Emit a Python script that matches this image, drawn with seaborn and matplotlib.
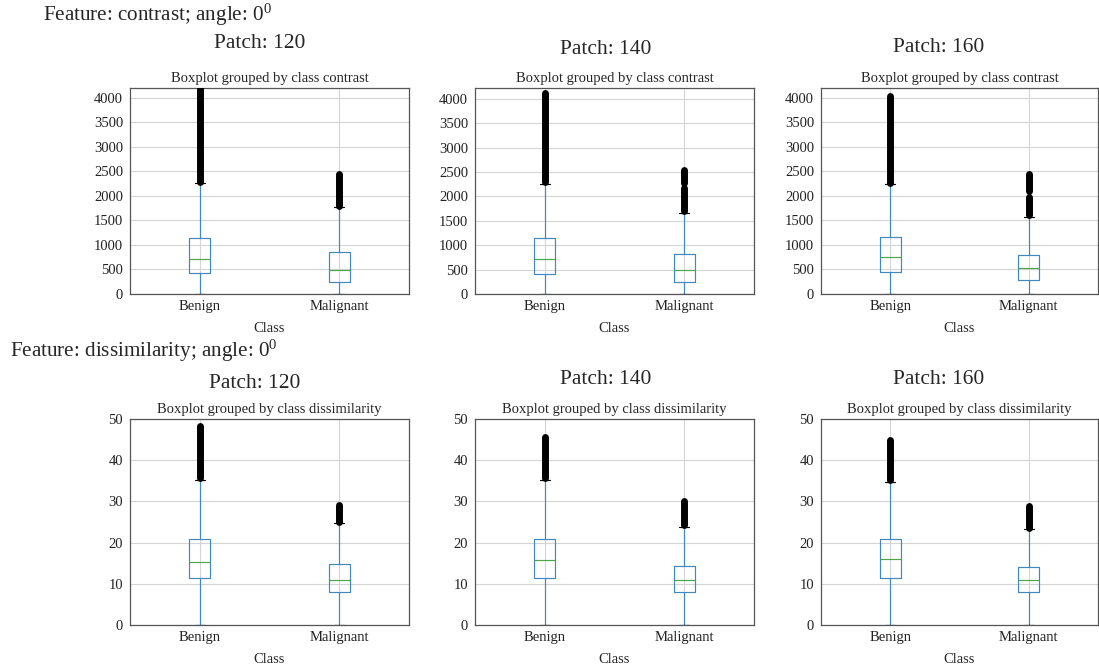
import pandas as pd
import matplotlib
matplotlib.use("Agg")
import matplotlib.pyplot as plt
import seaborn as sns

# data
classes = ["Benign", "Malignant"]
patches = [120, 140, 160]

# contrast, one [benign, malignant] pair per patch
contrast_whislo = [[0, 0], [0, 0], [0, 0]]
contrast_q1 = [[421, 251], [417, 253], [441, 292]]
contrast_med = [[706, 489], [718, 499], [746, 522]]
contrast_q3 = [[1148, 856], [1156, 814], [1166, 800]]
contrast_whishi = [[2255, 1766], [2256, 1662], [2237, 1573]]
# flier runs (low, high) - the outliers are so dense they form bars
contrast_fliers = [
    [[(2290, 4400)], [(1800, 2440)]],
    [[(2290, 4110)], [(1700, 2170), (2270, 2550)]],
    [[(2270, 4030)], [(1610, 1980), (2110, 2440)]],
]
contrast_ymax = [4200, 4220, 4200]

# dissimilarity
dissim_whislo = [[0, 0], [0, 0], [0, 0]]
dissim_q1 = [[11.3, 7.9], [11.3, 7.9], [11.5, 8.0]]
dissim_med = [[15.3, 10.9], [15.7, 10.9], [15.9, 10.9]]
dissim_q3 = [[20.9, 14.7], [20.9, 14.3], [20.8, 14.1]]
dissim_whishi = [[35.3, 24.7], [35.2, 23.9], [34.7, 23.2]]
dissim_fliers = [
    [[(35.8, 48.2)], [(25.1, 29.2)]],
    [[(35.7, 45.6)], [(24.3, 30.0)]],
    [[(35.2, 44.8)], [(23.6, 29.0)]],
]
dissim_ymax = [50, 50, 50]

sns.set_style("whitegrid", {"grid.color": "#d4d4d4", "axes.edgecolor": "#555555"})
plt.rcParams["font.family"] = ["Liberation Serif", "DejaVu Serif"]
plt.rcParams["mathtext.fontset"] = "custom"
plt.rcParams["mathtext.rm"] = "Liberation Serif"

W, H = 1099, 667
fig = plt.figure(figsize=(W / 100, H / 100), dpi=100)

lefts = [130, 475, 821]
widths = [279, 279, 277]
rows = [
    dict(name="contrast", top=88, bottom=294, whislo=contrast_whislo, q1=contrast_q1,
         med=contrast_med, q3=contrast_q3, whishi=contrast_whishi,
         fliers=contrast_fliers, ymax=contrast_ymax, yticks=range(0, 4001, 500),
         feat_xy=(43, 15), patch_xy=[(260, 43), (606, 49), (939, 47)]),
    dict(name="dissimilarity", top=419, bottom=625, whislo=dissim_whislo, q1=dissim_q1,
         med=dissim_med, q3=dissim_q3, whishi=dissim_whishi,
         fliers=dissim_fliers, ymax=dissim_ymax, yticks=range(0, 51, 10),
         feat_xy=(10, 351), patch_xy=[(255, 383), (606, 380), (939, 379)]),
]

for row in rows:
    fx, fy = row["feat_xy"]
    fig.text(fx / W, 1 - fy / H, "Feature: %s; angle: $\\mathregular{0^0}$" % row["name"],
             fontsize=15.2, ha="left", va="center")
    for i, p in enumerate(patches):
        ax = fig.add_axes([lefts[i] / W, 1 - row["bottom"] / H, widths[i] / W,
                           (row["bottom"] - row["top"]) / H])
        # five number summary per class -> exact quartiles for the box
        recs = []
        for j, c in enumerate(classes):
            for k in ["whislo", "q1", "med", "q3", "whishi"]:
                recs.append({"Class": c, "value": row[k][i][j]})
        df = pd.DataFrame(recs)
        sns.boxplot(data=df, x="Class", y="value", order=classes, whis=(0, 100),
                    width=0.15, fill=False, showfliers=False, color="#3f88c0",
                    linewidth=0.85, medianprops=dict(color="#4aa84a"),
                    capprops=dict(color="black"), ax=ax)
        for j in range(len(classes)):
            for lo, hi in row["fliers"][i][j]:
                ax.plot([j, j], [lo, hi], color="black", lw=5, solid_capstyle="round",
                        zorder=3)
        ax.set_xlim(-0.5, 1.5)
        ax.set_ylim(0, row["ymax"][i])
        ax.set_yticks(list(row["yticks"]))
        ax.grid(True, axis="both", color="#d4d4d4", lw=0.8)
        ax.set_axisbelow(True)
        ax.tick_params(length=0, labelsize=10.5, colors="#222222")
        ax.tick_params(axis="y", pad=5)
        ax.tick_params(axis="x", pad=4)
        ax.set_ylabel("")
        ax.set_xlabel("Class", fontsize=10.5, labelpad=7)
        ax.set_title("Boxplot grouped by class %s" % row["name"], fontsize=10.5, pad=4)
        for s in ax.spines.values():
            s.set_visible(True)
            s.set_color("#555555")
            s.set_linewidth(0.9)
        px, py = row["patch_xy"][i]
        fig.text(px / W, 1 - py / H, "Patch: %d" % p, fontsize=15.5, ha="center",
                 va="center")

fig.savefig("out.png", dpi=100)
